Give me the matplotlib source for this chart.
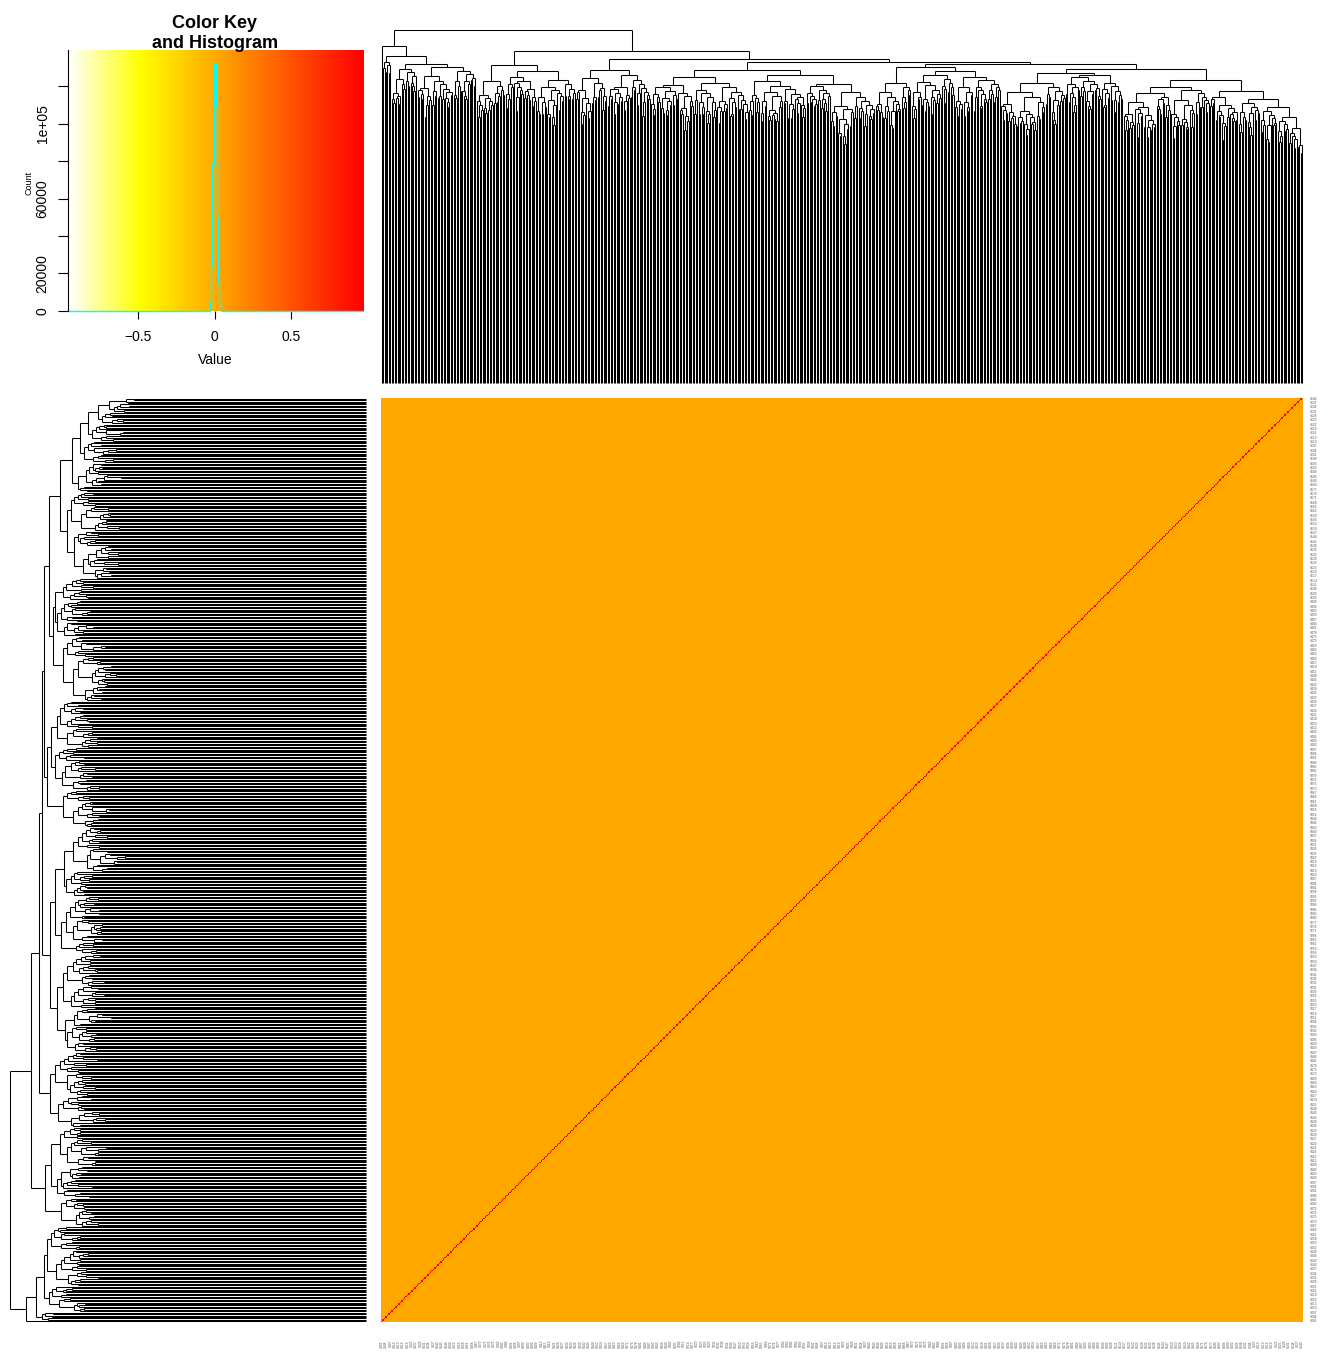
import matplotlib
matplotlib.use("Agg")
import matplotlib.pyplot as plt
import numpy as np
from matplotlib.collections import LineCollection
from matplotlib.colors import LinearSegmentedColormap

plt.rcParams['font.family'] = ['Liberation Sans', 'DejaVu Sans']

W, H = 1328, 1353

# ---- data ----
n_items = 640
item_labels = ["S%03d" % (i + 1) for i in range(n_items)]
off_diag_value = 0.0
diag_value = 1.0

key_lo, key_hi = -0.963, 0.974
key_stops = [-0.963, -0.49, 0.0, 0.974]
key_colors = ["#FFFFFF", "#FFFF00", "#FFAA00", "#FF0000"]

# non-empty histogram bins (all other bins are 0)
hist_edges = [-0.031, -0.024, -0.016, -0.005, 0.0085, 0.015, 0.0197, 0.028, 0.039]
hist_counts = [4800, 23500, 78600, 132500, 109600, 50000, 14600, 3900]

# dendrogram: [height, left, right]; (leaf count, height) = bushy sub-cluster
split_ratios = [0.5, 0.3, 0.62, 0.42, 0.2, 0.55, 0.7, 0.36, 0.48, 0.25, 0.6, 0.4]
height_drops = [6, 3, 9, 4, 12, 5, 2, 8, 7, 4, 10, 3, 14, 5]

tree_spec = [353,
    [337, (1, 0), [327, (6, 321), [319, (18, 314), (41, 316)]]],
    [332,
        [318, (20, 302), [312, (22, 306), (27, 303)]],
        [324,
            [313, (22, 305), (30, 308)],
            [321,
                [313, [306, (30, 298), (38, 300)], [308, (40, 302), (48, 299)]],
                [319,
                    [316, (25, 300), [312, (30, 308), (32, 306)]],
                    [314, [310, (45, 300), (40, 308)],
                          [303, (60, 296), [292, (20, 286), [284, (15, 280),
                            [276, (12, 272), [266, (8, 262), [255, (6, 250), (4, 238)]]]]]]]]]]]]


def grow(spec, cnt):
    if isinstance(spec, list):
        h, l, r = spec
        return (h, grow(l, cnt), grow(r, cnt))
    k, h = spec
    if k == 1:
        return None
    r = split_ratios[cnt[0] % len(split_ratios)]
    cnt[0] += 1
    kl = min(max(int(round(k * r)), 1), k - 1)
    d1 = height_drops[cnt[1] % len(height_drops)]
    d2 = height_drops[(cnt[1] + 1) % len(height_drops)]
    cnt[1] += 2
    return (h, grow((kl, h - d1), cnt), grow((k - kl, h - d2), cnt))


tree = grow(tree_spec, [0, 0])

segs = []
pos = [0]


def layout(node):
    if node is None:
        x = pos[0]
        pos[0] += 1
        return x, 0.0
    h, l, r = node
    xl, hl = layout(l)
    xr, hr = layout(r)
    segs.append([(xl, hl), (xl, h)])
    segs.append([(xr, hr), (xr, h)])
    segs.append([(xl, h), (xr, h)])
    return (xl + xr) / 2.0, h


layout(tree)
n = pos[0]
root_h = tree_spec[0]


def fr(x0, y0, x1, y1):
    # pixel box (top-left origin) -> figure fraction rect
    return [x0 / W, 1 - y1 / H, (x1 - x0) / W, (y1 - y0) / H]


fig = plt.figure(figsize=(W / 100, H / 100), dpi=100)

# ---- heatmap ----
mat = np.full((n, n), off_diag_value)
np.fill_diagonal(mat, diag_value)
cmap = LinearSegmentedColormap.from_list(
    "key", [((s - key_lo) / (key_hi - key_lo), c) for s, c in zip(key_stops, key_colors)])

axh = fig.add_axes(fr(381, 398, 1303, 1322))
axh.imshow(mat, cmap=cmap, vmin=key_lo, vmax=key_hi, origin="lower", aspect="auto",
           interpolation="nearest", extent=(-0.5, n - 0.5, -0.5, n - 0.5))
axh.set_axis_off()

# labels (R skips overlapping ones)
for i in range(0, n, 3):
    yy = 398 + (n - 0.5 - i) / n * 924
    fig.text(1310 / W, 1 - yy / H, item_labels[i], fontsize=2.3, color="#555555",
             ha="left", va="center")
    xx = 381 + (i + 0.5) / n * 922
    fig.text(xx / W, 1 - 1340 / H, item_labels[i], fontsize=2.3, color="#555555",
             ha="center", va="top", rotation=90)

# ---- column dendrogram ----
axc = fig.add_axes(fr(381, 30, 1303, 383))
axc.add_collection(LineCollection(segs, colors="black", linewidths=0.75))
axc.set_xlim(-0.5, n - 0.5)
axc.set_ylim(0, root_h)
axc.set_axis_off()
for c in axc.collections:
    c.set_clip_on(False)

# ---- row dendrogram ----
row_segs = [[(p[1], p[0]) for p in s] for s in segs]
axr = fig.add_axes(fr(10, 398, 366, 1322))
axr.add_collection(LineCollection(row_segs, colors="black", linewidths=0.75))
axr.set_ylim(-0.5, n - 0.5)
axr.set_xlim(root_h, 0)
axr.set_axis_off()
for c in axr.collections:
    c.set_clip_on(False)

# ---- color key ----
ymax = max(hist_counts) / 0.95
axk = fig.add_axes(fr(67.7, 50, 363.3, 310.7))
axk.imshow(np.linspace(key_lo, key_hi, 400)[None, :], cmap=cmap, vmin=key_lo, vmax=key_hi,
           aspect="auto", extent=(key_lo, key_hi, 0, ymax), interpolation="bilinear")
xs = [key_lo] + hist_edges + [key_hi]
ys = [0] + hist_counts + [0, 0]
axk.step(xs, ys, where="post", color="cyan", lw=1.0, clip_on=False)
axk.set_xlim(key_lo, key_hi)
axk.set_ylim(0, ymax)
for s in ["top", "right", "bottom"]:
    axk.spines[s].set_visible(False)
axk.spines["left"].set_linewidth(0.8)
axk.set_xticks([-0.5, 0, 0.5])
axk.set_xticklabels(["\u22120.5", "0", "0.5"], fontsize=10)
axk.set_yticks([0, 20000, 40000, 60000, 80000, 100000, 120000])
axk.set_yticklabels(["0", "20000", "", "60000", "", "1e+05", ""], fontsize=10,
                    rotation=90, va="center")
axk.tick_params(axis="x", length=6, width=0.8, pad=8)
axk.tick_params(axis="y", length=7, width=0.8, pad=6)

fig.text(215 / W, 1 - 23 / H, "Color Key", fontsize=13, fontweight="bold",
         ha="center", va="center")
fig.text(215 / W, 1 - 44 / H, "and Histogram", fontsize=13, fontweight="bold",
         ha="center", va="center")
fig.text(215 / W, 1 - 360 / H, "Value", fontsize=10, ha="center", va="center")
fig.text(29 / W, 1 - 183 / H, "Count", fontsize=6.5, ha="center", va="center", rotation=90)

fig.savefig("out.png", dpi=100)
